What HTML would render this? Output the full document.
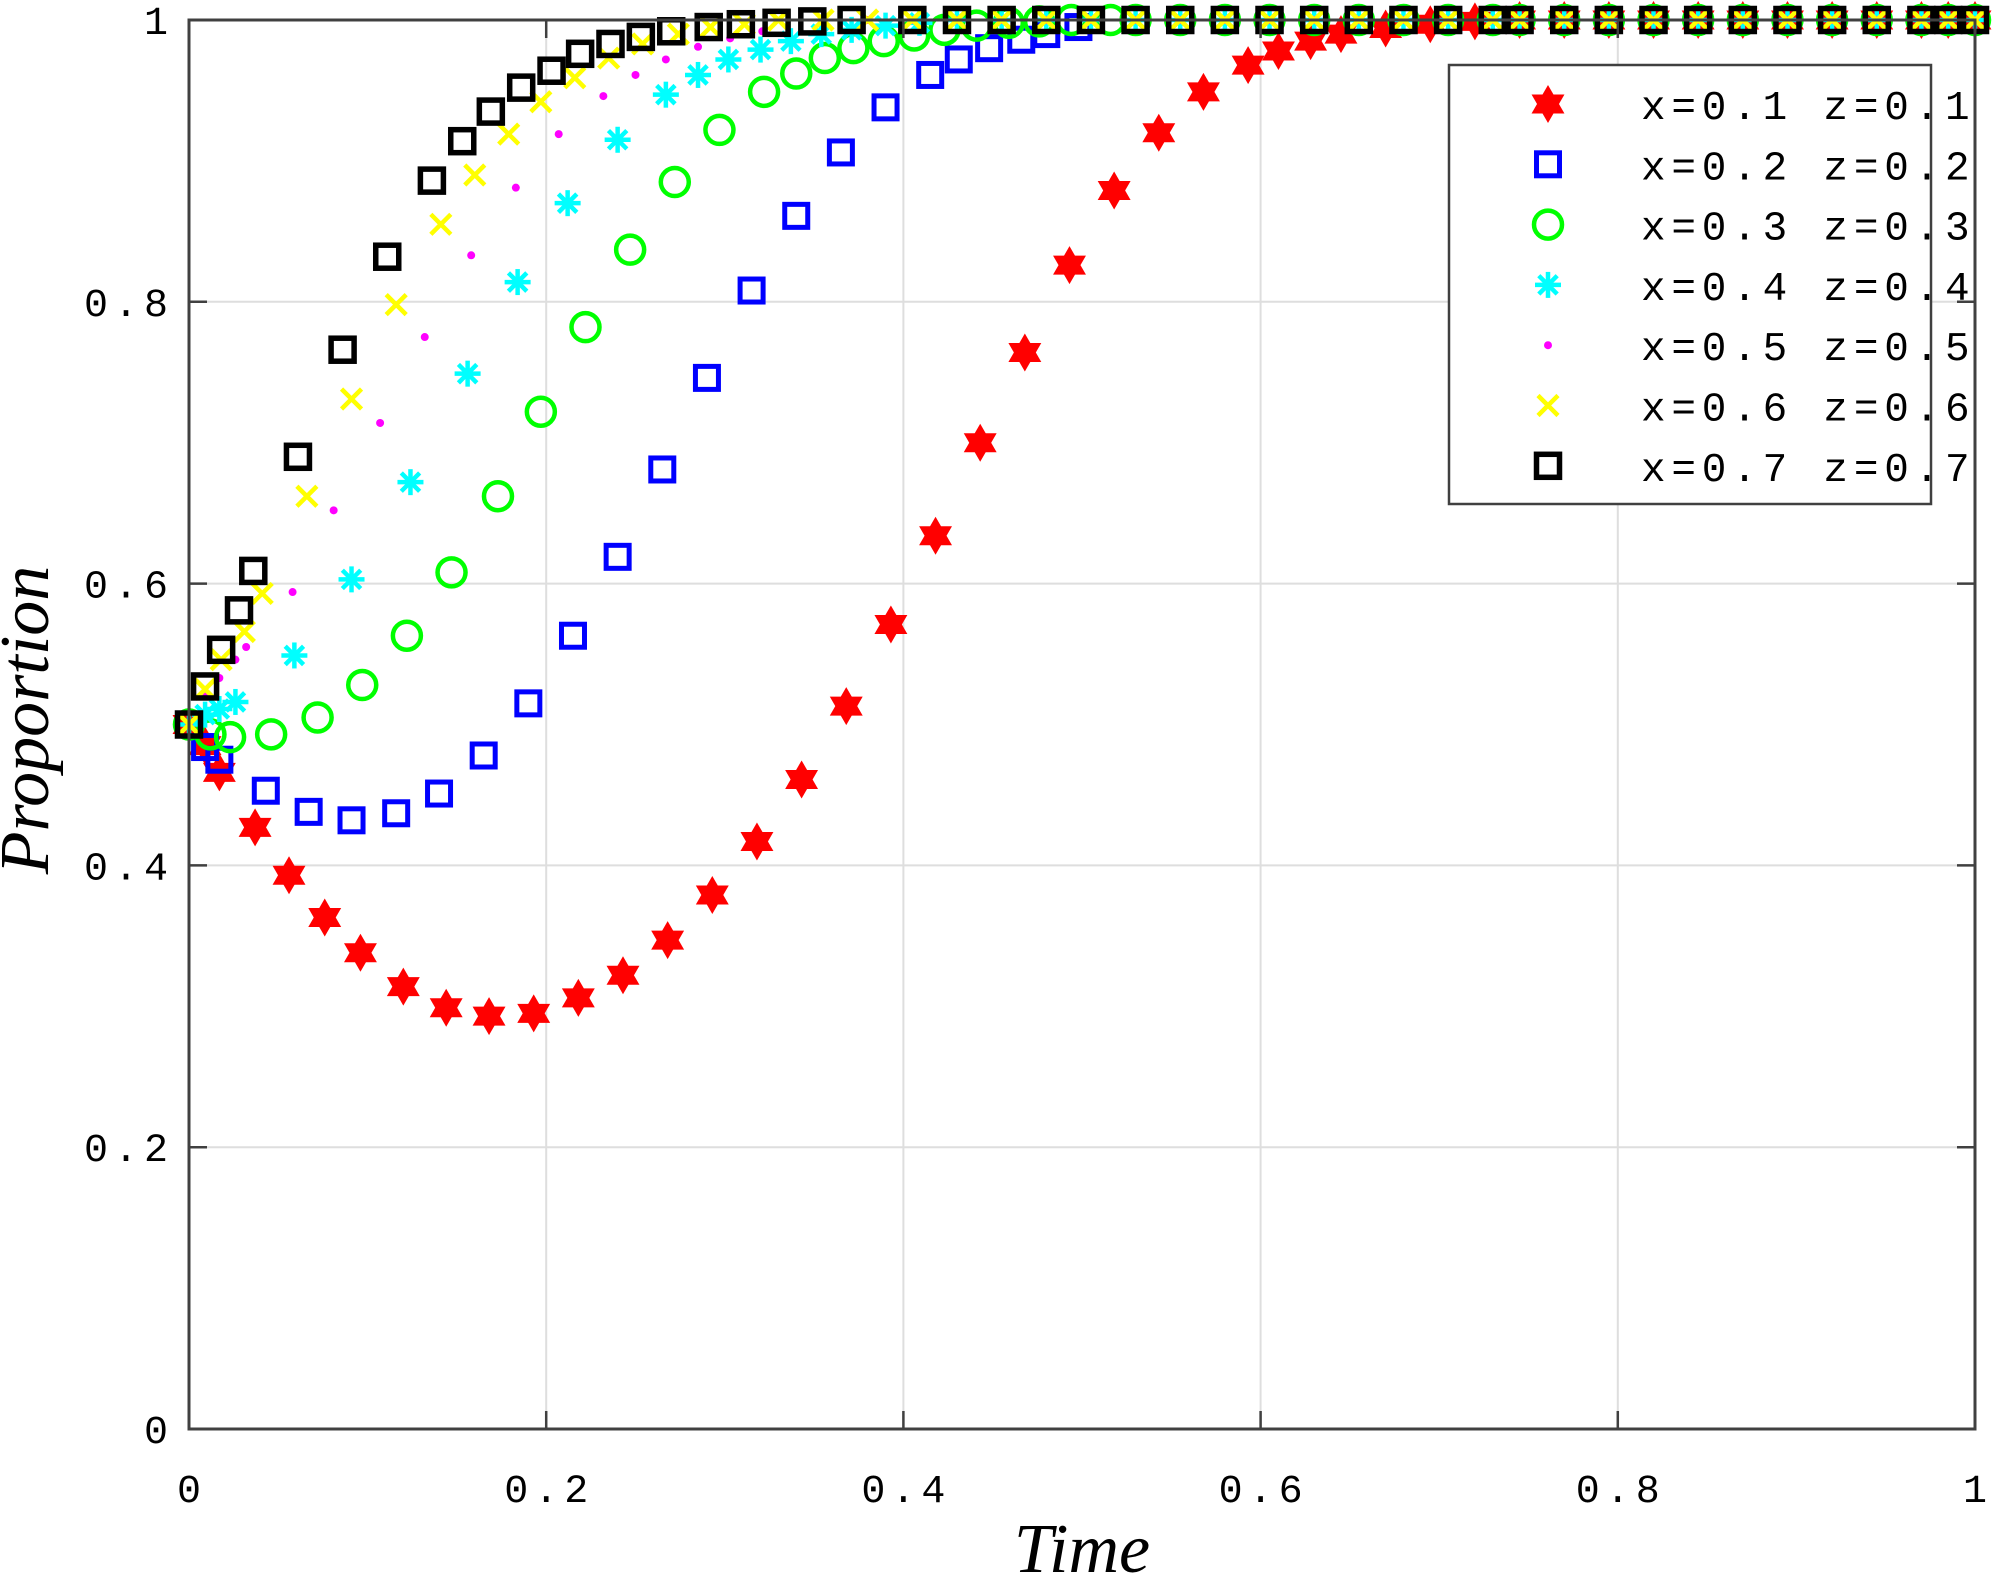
<!DOCTYPE html>
<html><head><meta charset="utf-8">
<style>
html,body{margin:0;padding:0;background:#fff;}
svg{display:block;}
.tick{font-family:"Liberation Mono",monospace;font-size:40px;fill:#000;letter-spacing:6px;}
.leg{font-family:"Liberation Mono",monospace;font-size:41px;fill:#000;letter-spacing:5.8px;}
.axt{font-family:"Liberation Serif",serif;font-style:italic;font-size:70px;fill:#000;}
</style></head>
<body>
<svg id="chart" width="2000" height="1580" viewBox="0 0 2000 1580" xmlns="http://www.w3.org/2000/svg">
<g id="grid"></g>
<g id="marks"></g>
<g id="axes"></g>
<g id="legend"></g>
<text class="axt" x="1082" y="1572" text-anchor="middle">Time</text>
<text class="axt" transform="translate(48,720) rotate(-90)" text-anchor="middle">Proportion</text>
</svg>
<script>
const xTicks=[0,0.2,0.4,0.6,0.8,1];
const yTicks=[0,0.2,0.4,0.6,0.8,1];
const xTickLabels=["0","0.2","0.4","0.6","0.8","1"];
const yTickLabels=["0","0.2","0.4","0.6","0.8","1"];
const seriesNames=["x=0.1 z=0.1","x=0.2 z=0.2","x=0.3 z=0.3","x=0.4 z=0.4","x=0.5 z=0.5","x=0.6 z=0.6","x=0.7 z=0.7"];
const redT=[0,0.009,0.017,0.037,0.056,0.076,0.096,0.12,0.144,0.168,0.193,0.218,0.243,0.268,0.293,0.318,0.343,0.368,0.393,0.418,0.443,0.468,0.493,0.518,0.543,0.568,0.593,0.61,0.628,0.645,0.67,0.695,0.72];
const redY=[0.5,0.485,0.466,0.427,0.393,0.363,0.338,0.314,0.299,0.293,0.295,0.306,0.322,0.347,0.379,0.417,0.461,0.513,0.571,0.634,0.700,0.764,0.826,0.879,0.920,0.949,0.968,0.978,0.985,0.99,0.994,0.997,0.999];
const blueT=[0,0.009,0.017,0.043,0.067,0.091,0.116,0.14,0.165,0.19,0.215,0.24,0.265,0.29,0.315,0.34,0.365,0.39,0.415,0.431,0.448,0.466,0.48,0.498];
const blueY=[0.5,0.484,0.475,0.453,0.438,0.432,0.437,0.451,0.478,0.515,0.563,0.619,0.681,0.746,0.808,0.861,0.906,0.938,0.961,0.972,0.980,0.986,0.990,0.995];
const greenT=[0,0.012,0.023,0.046,0.072,0.097,0.122,0.147,0.173,0.197,0.222,0.247,0.272,0.297,0.322,0.34,0.356,0.372,0.389,0.406,0.423,0.441,0.459,0.476,0.494,0.516];
const greenY=[0.5,0.493,0.491,0.493,0.505,0.528,0.563,0.608,0.662,0.722,0.782,0.837,0.885,0.922,0.949,0.962,0.973,0.980,0.985,0.989,0.993,0.996,0.998,0.999,1,1];
const cyanT=[0,0.009,0.017,0.026,0.059,0.091,0.124,0.156,0.184,0.212,0.24,0.267,0.285,0.302,0.32,0.337,0.354,0.371,0.39,0.409];
const cyanY=[0.5,0.507,0.511,0.516,0.549,0.603,0.672,0.749,0.814,0.870,0.915,0.947,0.961,0.972,0.979,0.985,0.990,0.993,0.996,0.998];
const magT=[0,0.009,0.017,0.026,0.032,0.058,0.081,0.107,0.132,0.158,0.183,0.207,0.232,0.25,0.267,0.285,0.303,0.321];
const magY=[0.5,0.52,0.533,0.546,0.555,0.594,0.652,0.714,0.775,0.833,0.881,0.919,0.946,0.961,0.972,0.981,0.987,0.992];
const yelT=[0,0.009,0.018,0.031,0.041,0.066,0.091,0.116,0.141,0.16,0.179,0.197,0.216,0.235,0.254,0.274,0.292,0.311];
const yelY=[0.5,0.525,0.546,0.566,0.593,0.662,0.731,0.798,0.855,0.89,0.919,0.942,0.959,0.973,0.983,0.990,0.995,0.997];
const blackT=[0,0.009,0.018,0.028,0.036,0.061,0.086,0.111,0.136,0.153,0.169,0.186,0.203,0.219,0.236,0.253,0.27,0.291,0.309,0.329,0.349,0.371];
const blackY=[0.5,0.527,0.553,0.581,0.609,0.69,0.766,0.832,0.886,0.914,0.935,0.952,0.964,0.976,0.983,0.988,0.992,0.995,0.997,0.998,0.999,1];
const tailT=[0.33,0.355,0.38,0.405,0.43,0.455,0.48,0.505,0.53,0.555,0.58,0.605,0.63,0.655,0.68,0.705,0.73,0.745,0.77,0.795,0.82,0.845,0.87,0.895,0.92,0.945,0.97,0.985,1.0];
const tailY=[1,1,1,1,1,1,1,1,1,1,1,1,1,1,1,1,1,1,1,1,1,1,1,1,1,1,1,1,1];

const L=189,R=1975,T=20,B=1429;
const sx=v=>L+v*(R-L);
const sy=v=>B-v*(B-T);
const NS="http://www.w3.org/2000/svg";
function mk(tag,attrs,parent){const e=document.createElementNS(NS,tag);for(const k in attrs)e.setAttribute(k,attrs[k]);parent.appendChild(e);return e;}
const grid=document.getElementById('grid'),axes=document.getElementById('axes'),marks=document.getElementById('marks'),legend=document.getElementById('legend');

xTicks.forEach((v,i)=>{
  if(v>0&&v<1){const g=mk('line',{x1:sx(v),x2:sx(v),y1:T,y2:B,stroke:'#dedede','stroke-width':2},grid);
  
  }
  mk('line',{x1:sx(v),x2:sx(v),y1:B,y2:B-18,stroke:'#404040','stroke-width':2.5},axes);
  mk('line',{x1:sx(v),x2:sx(v),y1:T,y2:T+18,stroke:'#404040','stroke-width':2.5},axes);
  const t=mk('text',{x:sx(v)+3,y:1502,'text-anchor':'middle',class:'tick'},axes);
  t.textContent=xTickLabels[i];
  
  
});
yTicks.forEach((v,i)=>{
  if(v>0&&v<1){const g=mk('line',{x1:L,x2:R,y1:sy(v),y2:sy(v),stroke:'#dedede','stroke-width':2},grid);
  
  }
  mk('line',{x1:L,x2:L+18,y1:sy(v),y2:sy(v),stroke:'#404040','stroke-width':2.5},axes);
  mk('line',{x1:R,x2:R-18,y1:sy(v),y2:sy(v),stroke:'#404040','stroke-width':2.5},axes);
  const t=mk('text',{x:174,y:sy(v)+14,'text-anchor':'end',class:'tick'},axes);
  t.textContent=yTickLabels[i];
  
  
});
const frame=mk('rect',{x:L,y:T,width:R-L,height:B-T,fill:'none',stroke:'#404040','stroke-width':3},axes);



function star(cx,cy,r,g){const p1=[],p2=[];for(let k=0;k<3;k++){const a=-Math.PI/2+k*2*Math.PI/3;p1.push((cx+r*Math.cos(a))+','+(cy+r*Math.sin(a)));const b=Math.PI/2+k*2*Math.PI/3;p2.push((cx+r*Math.cos(b))+','+(cy+r*Math.sin(b)));}
  mk('polygon',{points:p1.join(' '),fill:'#ff0000'},g);mk('polygon',{points:p2.join(' '),fill:'#ff0000'},g);}
function drawMarker(type,cx,cy,g){
  if(type==='star')star(cx,cy,19,g);
  else if(type==='sqb')mk('rect',{x:cx-11.5,y:cy-11.5,width:23,height:23,fill:'none',stroke:'#0000ff','stroke-width':5},g);
  else if(type==='circ')mk('circle',{cx:cx,cy:cy,r:14,fill:'none',stroke:'#00ff00','stroke-width':4.5},g);
  else if(type==='ast'){for(let k=0;k<4;k++){const a=k*Math.PI/4;mk('line',{x1:cx-13*Math.cos(a),y1:cy-13*Math.sin(a),x2:cx+13*Math.cos(a),y2:cy+13*Math.sin(a),stroke:'#00ffff','stroke-width':4.5},g);}}
  else if(type==='dot')mk('circle',{cx:cx,cy:cy,r:4,fill:'#ff00ff'},g);
  else if(type==='x'){mk('path',{d:`M${cx-10} ${cy-10}L${cx+10} ${cy+10}M${cx+10} ${cy-10}L${cx-10} ${cy+10}`,stroke:'#ffff00','stroke-width':4.5},g);}
  else if(type==='sqk')mk('rect',{x:cx-11.5,y:cy-11.5,width:23,height:23,fill:'none',stroke:'#000','stroke-width':5.5},g);
}
const series=[[redT,redY,'star','series-x01'],[blueT,blueY,'sqb','series-x02'],[greenT,greenY,'circ','series-x03'],[cyanT,cyanY,'ast','series-x04'],[magT,magY,'dot','series-x05'],[yelT,yelY,'x','series-x06'],[blackT,blackY,'sqk','series-x07']];
series.forEach(([ts,ys,type,name])=>{
  const g=mk('g',{},marks);
  
  
  const last=ts[ts.length-1];
  ts.forEach((t,i)=>drawMarker(type,sx(t),sy(ys[i]),g));
  tailT.forEach((t,i)=>{if(t>last+0.01)drawMarker(type,sx(t),sy(tailY[i]),g);});
});

const lb=mk('rect',{x:1449,y:65,width:482,height:439,fill:'#fff',stroke:'#404040','stroke-width':2.5},legend);


const types=['star','sqb','circ','ast','dot','x','sqk'];
seriesNames.forEach((n,i)=>{
  const y=104+i*60.3;
  const g=mk('g',{},legend);
  
  
  drawMarker(types[i],1548,y,g);
  const t=mk('text',{x:1641,y:y+15,class:'leg'},g);
  t.textContent=n;
});
</script>
</body></html>
